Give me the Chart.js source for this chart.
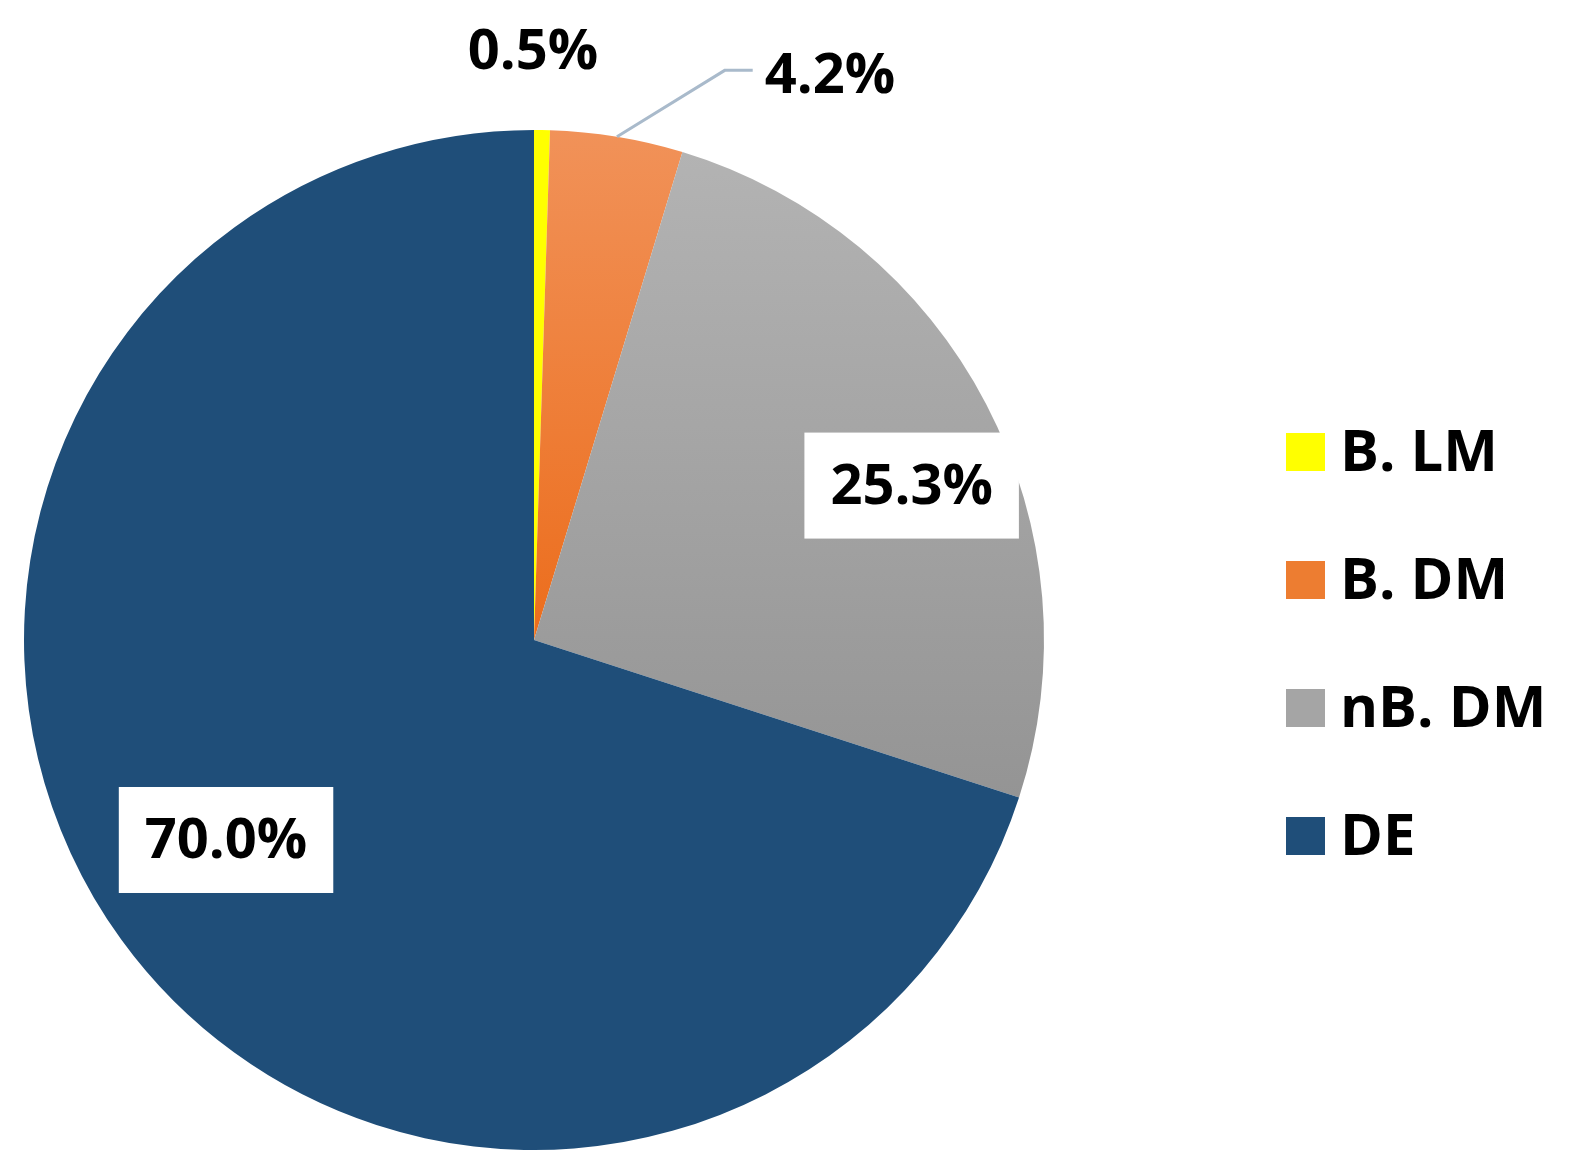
<!DOCTYPE html>
<html>
<head>
<meta charset="utf-8">
<script src="https://cdn.jsdelivr.net/npm/chart.js@4.4.1/dist/chart.umd.min.js"></script>
<style>
  html, body { margin: 0; padding: 0; background: #fff; }
  #wrap { width: 1585px; height: 1165px; }
</style>
</head>
<body>
<div id="wrap"><canvas id="pie" width="1585" height="1165"></canvas></div>
<script>
const categories = ['B. LM', 'B. DM', 'nB. DM', 'DE'];
const shares = [0.5, 4.2, 25.3, 70.0];
const legendColors = ['#ffff00', '#ed7d31', '#a5a5a5', '#1f4e79'];

const FONT = '"Open Sans", "Noto Sans", sans-serif';

// label placement per slice: radial factor, angle shift (deg), boxed?
const labelPlacement = [
    { r: 1.155, shift: -1.0, box: false },
    { r: 1.25, shift: 18.3, box: false, leader: true },
    { r: 0.80, shift: 5.3, box: true },
    { r: 0.72, shift: 3.0, box: true }
];

function sliceFill(ctx) {
    const chart = ctx.chart;
    const area = chart.chartArea;
    if (!area) return legendColors[ctx.dataIndex];
    const c = chart.canvas.getContext('2d');
    const midY = (area.top + area.bottom) / 2;
    if (ctx.dataIndex === 1) {
        const g = c.createLinearGradient(0, area.top, 0, midY);
        g.addColorStop(0, '#f19259');
        g.addColorStop(1, '#ec6d1c');
        return g;
    }
    if (ctx.dataIndex === 2) {
        const g = c.createLinearGradient(0, area.top, 0, area.top + (area.bottom - area.top) * 0.66);
        g.addColorStop(0, '#b4b4b4');
        g.addColorStop(1, '#949494');
        return g;
    }
    return legendColors[ctx.dataIndex];
}

const pctLabels = {
    id: 'pctLabels',
    afterDatasetsDraw(chart) {
        const ctx = chart.ctx;
        const meta = chart.getDatasetMeta(0);
        ctx.save();
        ctx.font = 'bold 56px ' + FONT;
        ctx.textAlign = 'center';
        ctx.textBaseline = 'middle';
        meta.data.forEach((arc, i) => {
            const p = labelPlacement[i];
            const mid = (arc.startAngle + arc.endAngle) / 2;
            const ang = mid + p.shift * Math.PI / 180;
            const x = arc.x + Math.cos(ang) * arc.outerRadius * p.r;
            const y = arc.y + Math.sin(ang) * arc.outerRadius * p.r;
            const text = shares[i].toFixed(1) + '%';
            const w = ctx.measureText(text).width;
            if (p.box) {
                ctx.fillStyle = '#ffffff';
                ctx.fillRect(x - w / 2 - 26, y - 53, w + 52, 106);
            }
            if (p.leader) {
                const sx = arc.x + Math.cos(mid) * arc.outerRadius;
                const sy = arc.y + Math.sin(mid) * arc.outerRadius;
                const ex = x - w / 2 - 12;
                ctx.strokeStyle = '#a9bacb';
                ctx.lineWidth = 3;
                ctx.beginPath();
                ctx.moveTo(sx, sy);
                ctx.lineTo(ex - 28, y - 5);
                ctx.lineTo(ex, y - 5);
                ctx.stroke();
            }
            ctx.fillStyle = '#000000';
            ctx.fillText(text, x, y + 2);
        });
        ctx.restore();
    }
};

const sideLegend = {
    id: 'sideLegend',
    afterDraw(chart) {
        const ctx = chart.ctx;
        ctx.save();
        ctx.font = 'bold 58px ' + FONT;
        ctx.textBaseline = 'middle';
        ctx.textAlign = 'left';
        categories.forEach((name, i) => {
            const cy = 452 + i * 128;
            ctx.fillStyle = legendColors[i];
            ctx.fillRect(1286, cy - 19, 39, 38);
            ctx.fillStyle = '#000000';
            ctx.fillText(name, 1340, cy + 2);
        });
        ctx.restore();
    }
};

new Chart(document.getElementById('pie'), {
    type: 'pie',
    data: {
        labels: categories,
        datasets: [{
            data: shares,
            backgroundColor: sliceFill,
            borderWidth: 0
        }]
    },
    options: {
        responsive: false,
        animation: false,
        layout: { padding: { left: 23, top: 130, right: 540, bottom: 15 } },
        plugins: {
            legend: { display: false },
            tooltip: { enabled: false }
        }
    },
    plugins: [pctLabels, sideLegend]
});
</script>
</body>
</html>
